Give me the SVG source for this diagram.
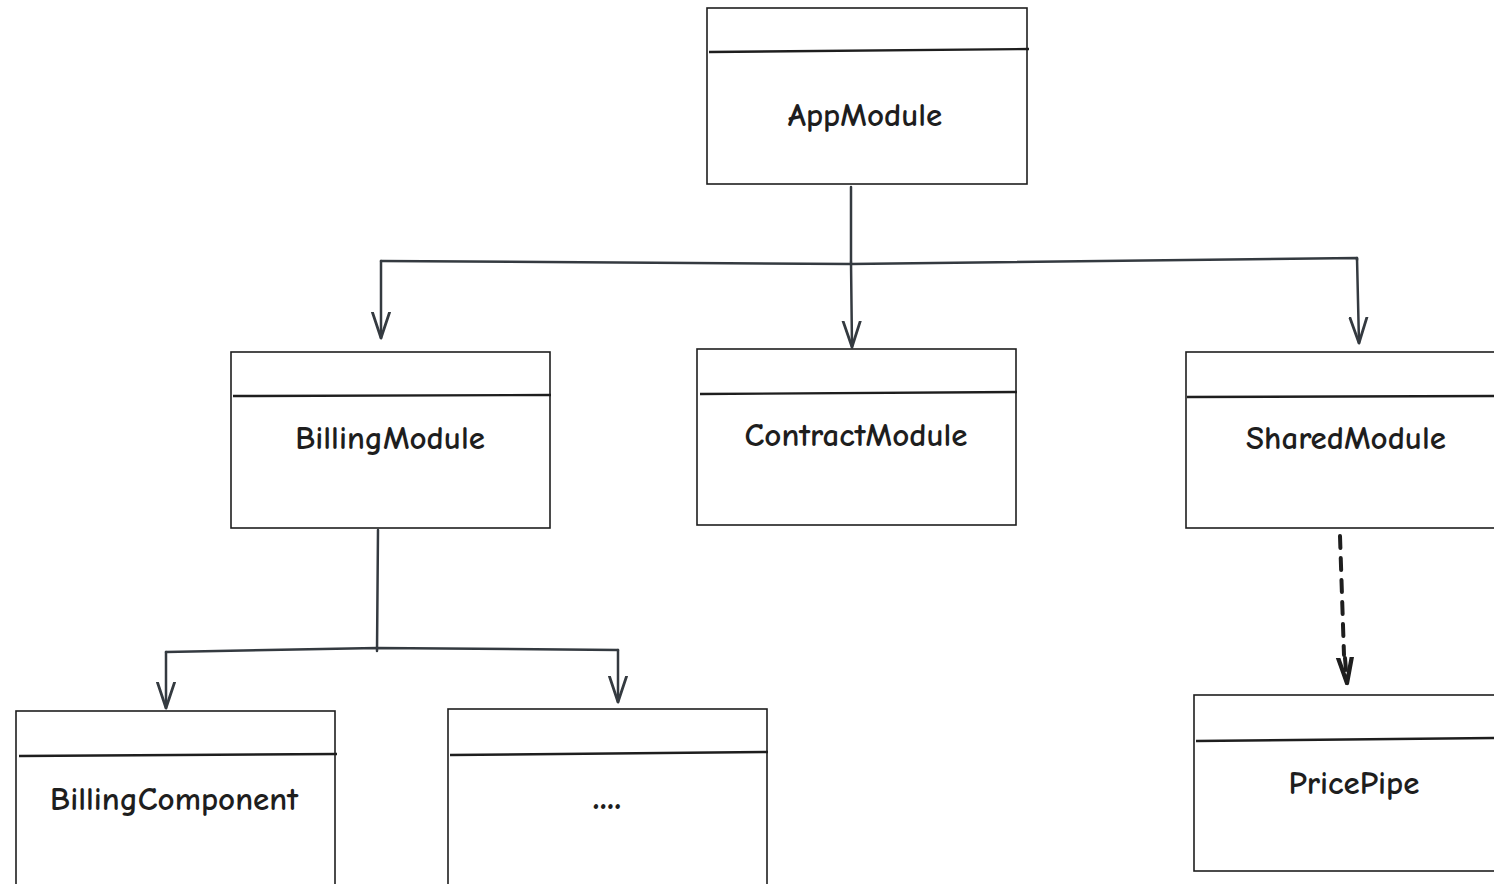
<svg xmlns="http://www.w3.org/2000/svg" width="1494" height="884" viewBox="0 0 1494 884">
<defs>
<style>
.box{fill:#ffffff;stroke:#1e1e1e;stroke-width:1.6}
.div{stroke:#1e1e1e;stroke-width:2.4;fill:none}
.lbl{font-family:"Comic Neue","Liberation Sans","DejaVu Sans",sans-serif;font-size:33px;font-weight:bold;fill:#1e1e1e;text-anchor:middle;dominant-baseline:central}
.con{fill:none;stroke:#343a40;stroke-width:2.5;stroke-linejoin:round;stroke-linecap:round}
.dash{fill:none;stroke:#1e1e1e;stroke-width:4;stroke-dasharray:12 10;stroke-linecap:round}
</style>
<marker id="arr" markerUnits="userSpaceOnUse" markerWidth="30" markerHeight="30" viewBox="-24 -12 28 24" refX="0" refY="0" orient="auto">
<path d="M-24,-8 L0,0 L-24,8" fill="none" stroke="#343a40" stroke-width="2.6" stroke-linecap="round" stroke-linejoin="round"/>
</marker>
<marker id="arrd" markerUnits="userSpaceOnUse" markerWidth="30" markerHeight="30" viewBox="-24 -12 28 24" refX="0" refY="0" orient="auto">
<path d="M-26,-7 L0,0 L-26,7" fill="none" stroke="#1e1e1e" stroke-width="4" stroke-linecap="round" stroke-linejoin="round"/>
</marker>
</defs>
<rect width="1494" height="884" fill="#ffffff"/>

<g id="connectors">
<path class="con" d="M851,187 L851,262"/>
<path class="con" d="M381,261 L851,264 L1357,258 L1357,260"/>
<path class="con" d="M381,261 L381,338" marker-end="url(#arr)"/>
<path class="con" d="M851,262 L852,347" marker-end="url(#arr)"/>
<path class="con" d="M1357,258 L1359,343" marker-end="url(#arr)"/>
<path class="con" d="M378,530 L377,651"/>
<path class="con" d="M166,652 L377,648 L618,650"/>
<path class="con" d="M166,652 L166,708" marker-end="url(#arr)"/>
<path class="con" d="M618,650 L618,702" marker-end="url(#arr)"/>
<path class="dash" d="M1340,536 L1344,655"/>
<path class="dash" d="M1345,658 L1347,683" stroke-dasharray="none" marker-end="url(#arrd)"/>
</g>

<g id="app-module">
<rect class="box" x="707" y="8" width="320" height="176"/>
<path class="div" d="M709,52 L1029,49"/>
<text class="lbl" x="865" y="115">AppModule</text>
</g>

<g id="billing-module">
<rect class="box" x="231" y="352" width="319" height="176"/>
<path class="div" d="M233,396 L551,395"/>
<text class="lbl" x="390" y="438">BillingModule</text>
</g>

<g id="contract-module">
<rect class="box" x="697" y="349" width="319" height="176"/>
<path class="div" d="M700,394 L1017,392"/>
<text class="lbl" x="856" y="435">ContractModule</text>
</g>

<g id="shared-module">
<rect class="box" x="1186" y="352" width="320" height="176"/>
<path class="div" d="M1187,397 L1494,396"/>
<text class="lbl" x="1346" y="438">SharedModule</text>
</g>

<g id="billing-component">
<rect class="box" x="16" y="711" width="319" height="190"/>
<path class="div" d="M19,756 L337,754"/>
<text class="lbl" x="174" y="799">BillingComponent</text>
</g>

<g id="more">
<rect class="box" x="448" y="709" width="319" height="190"/>
<path class="div" d="M450,755 L768,752"/>
<text class="lbl" x="607" y="796" style="font-size:40px">....</text>
</g>

<g id="price-pipe">
<rect class="box" x="1194" y="695" width="320" height="176"/>
<path class="div" d="M1196,741 L1494,738"/>
<text class="lbl" x="1354" y="783">PricePipe</text>
</g>
</svg>
